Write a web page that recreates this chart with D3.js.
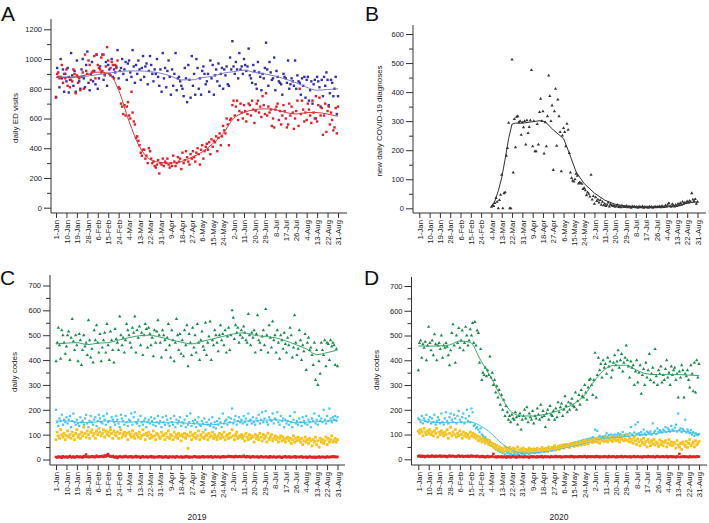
<!DOCTYPE html>
<html lang="en">
  <head>
    <meta charset="utf-8">
    <title>ED visits, COVID-19 diagnoses and daily codes</title>
    <style>
      body { margin: 0; background: #fff; }
      svg { display: block; font-family: "Liberation Sans", Arial, Helvetica, sans-serif; }
    </style>
  </head>
  <body>
    <div class="graph"></div>

    <script src="https://d3js.org/d3.v7.min.js"></script>
    <script>
      // x tick labels, one every 9 days from day 0 (1-Jan) to day 243 (31-Aug)
      var tickLabels = ['1-Jan', '10-Jan', '19-Jan', '28-Jan', '6-Feb', '15-Feb', '24-Feb', '4-Mar', '13-Mar',
        '22-Mar', '31-Mar', '9-Apr', '18-Apr', '27-Apr', '6-May', '15-May', '24-May', '2-Jun', '11-Jun',
        '20-Jun', '29-Jun', '8-Jul', '17-Jul', '26-Jul', '4-Aug', '13-Aug', '22-Aug', '31-Aug'];
      var tickDays = [0, 9, 18, 27, 36, 45, 54, 63, 72, 81, 90, 99, 108, 117, 126, 135, 144, 153, 162,
        171, 180, 189, 198, 207, 216, 225, 234, 243];

      // panel A: daily ED visits, 2019 (blue) and 2020 (red)
      var edVisits2019 = [
        745, 940, 880, 810, 1000, 870, 930, 780, 900, 850,
        940, 775, 860, 1040, 890, 820, 920, 780, 990, 880,
        850, 800, 930, 1000, 870, 810, 960, 1050, 840, 790,
        900, 980, 850, 920, 830, 1030, 800, 870, 950, 910,
        1030, 860, 900, 980, 820, 960, 930, 890, 1000, 880,
        930, 910, 950, 1060, 870, 920, 940, 1000, 900, 930,
        980, 860, 970, 990, 910, 880, 1060, 950, 840, 960,
        900, 990, 930, 860, 940, 1020, 880, 950, 970, 830,
        920, 1020, 960, 900, 850, 930, 900, 1000, 880, 820,
        930, 780, 1040, 870, 940, 810, 920, 990, 880, 760,
        930, 820, 900, 1040, 790, 870, 880, 850, 820, 800,
        750, 940, 870, 710, 960, 860, 740, 1020, 820, 900,
        760, 1000, 940, 800, 870, 760, 920, 950, 900, 830,
        850, 900, 780, 990, 870, 960, 760, 890, 930, 850,
        970, 820, 900, 940, 800, 930, 890, 950, 830, 820,
        1010, 930, 1120, 950, 900, 980, 930, 870, 1040, 930,
        950, 900, 1000, 960, 920, 950, 1070, 890, 870, 840,
        960, 920, 830, 800, 980, 910, 880, 790, 900, 870,
        940, 1110, 930, 820, 980, 910, 860, 870, 1010, 790,
        920, 880, 850, 840, 830, 760, 900, 880, 870, 840,
        990, 800, 830, 870, 850, 820, 990, 800, 890, 850,
        840, 760, 870, 820, 880, 740, 860, 880, 720, 790,
        850, 700, 830, 860, 600, 880, 850, 810, 680, 860,
        750, 880, 820, 910, 860, 690, 770, 860, 840, 750,
        800, 880, 630, 750];
      var edVisits2020 = [
        740, 900, 910, 870, 880, 960, 840, 900, 870, 930,
        820, 880, 810, 860, 850, 930, 900, 770, 890, 840,
        870, 790, 880, 910, 800, 1030, 920, 900, 990, 960,
        860, 910, 920, 1020, 870, 1030, 960, 940, 930, 1010,
        920, 1030, 890, 950, 1080, 990, 900, 940, 980, 960,
        870, 960, 940, 990, 810, 800, 700, 680, 630, 690,
        620, 680, 710, 620, 600, 780, 640, 580, 560, 470,
        480, 450, 420, 370, 350, 390, 390, 330, 350, 300,
        400, 380, 330, 300, 310, 280, 270, 290, 320, 230,
        300, 290, 330, 280, 310, 300, 330, 290, 270, 300,
        280, 350, 310, 280, 300, 340, 310, 330, 260, 370,
        300, 320, 380, 340, 310, 290, 360, 330, 380, 340,
        310, 370, 400, 360, 290, 390, 420, 330, 380, 410,
        430, 390, 440, 360, 460, 410, 450, 440, 480, 380,
        470, 500, 420, 480, 550, 520, 500, 600, 560, 420,
        590, 600, 690, 720, 620, 680, 720, 590, 650, 700,
        640, 600, 690, 650, 580, 630, 700, 690, 620, 720,
        660, 570, 650, 700, 720, 640, 680, 610, 750, 690,
        630, 770, 620, 680, 640, 660, 550, 600, 540, 660,
        680, 700, 590, 650, 560, 620, 690, 650, 600, 540,
        560, 700, 620, 680, 640, 530, 600, 650, 720, 550,
        800, 630, 720, 660, 580, 640, 590, 700, 660, 620,
        570, 720, 640, 600, 750, 580, 690, 740, 620, 670,
        490, 620, 700, 510, 650, 680, 560, 640, 590, 520,
        540, 670, 500, 680];
      // smoothed lines, read at the tick days
      var edTrend2019 = [875, 880, 880, 885, 895, 905, 915, 920, 920, 915, 905, 885, 860, 860, 875, 885,
        905, 915, 925, 910, 900, 885, 865, 840, 810, 790, 795, 800];
      var edTrend2020 = [880, 875, 880, 895, 912, 905, 790, 580, 410, 325, 305, 300, 310, 340, 375, 430,
        500, 600, 640, 660, 665, 660, 640, 630, 640, 640, 630, 615];

      // panel B: new daily COVID-19 diagnoses, from day 63 (4-Mar)
      var covidStartDay = 63;
      var covidCases = [
        5, 10, 8, 18, 35, 22, 0,
        28, 46, 115, 0, 52, 55, 181, 207, 294, 0,
        0, 512, 123, 307, 210, 315, 317, 296, 300, 253,
        296, 279, 300, 219, 303, 259, 280, 303, 476, 213,
        300, 196, 196, 290, 219, 331, 377, 300, 334, 188,
        296, 213, 317, 457, 386, 300, 354, 132, 334, 411,
        215, 374, 317, 262, 127, 250, 276, 262, 213, 291,
        270, 190, 123, 104, 95, 92, 100, 119, 112, 85,
        89, 87, 84, 66, 70, 62, 45, 55, 50, 40,
        115, 30, 42, 15, 38, 25, 30, 20, 28, 12,
        22, 10, 15, 8, 12, 20, 6, 14, 10, 8,
        10, 5, 8, 12, 4, 7, 3, 9, 5, 6,
        4, 8, 3, 6, 5, 2, 7, 4, 6, 3,
        5, 2, 6, 4, 3, 7, 2, 5, 3, 4,
        2, 6, 3, 5, 2, 4, 6, 3, 5, 4,
        7, 3, 8, 5, 4, 10, 6, 12, 18, 8,
        5, 14, 10, 6, 12, 8, 15, 10, 18, 12,
        22, 15, 20, 18, 24, 20, 26, 22, 52, 30,
        25, 32, 15, 22];
      var covidTrendDays = [63, 66, 69, 72, 75, 78, 81, 84, 90, 99, 106, 110, 117, 126, 131, 137, 144,
        153, 162, 171, 180, 189, 198, 207, 216, 225, 234, 243];
      var covidTrend = [5, 25, 60, 105, 170, 240, 290, 293, 293, 298, 302, 298, 270, 240, 190, 125, 85,
        52, 28, 14, 8, 5, 4, 4, 5, 8, 18, 22];

      // panel C: daily codes, 2019
      var green2019 = [
        395, 470, 530, 460, 405, 520, 500, 470, 425, 455,
        500, 515, 400, 490, 565, 475, 440, 500, 460, 395,
        505, 480, 380, 440, 500, 455, 470, 420, 560, 480,
        410, 445, 390, 520, 480, 540, 470, 430, 505, 395,
        450, 480, 510, 430, 545, 460, 400, 515, 480, 440,
        390, 525, 485, 470, 440, 575, 500, 460, 490, 430,
        480, 545, 520, 500, 470, 450, 530, 510, 575, 430,
        520, 490, 535, 460, 510, 420, 500, 545, 525, 450,
        530, 505, 460, 490, 415, 520, 470, 515, 560, 500,
        470, 410, 520, 500, 480, 440, 490, 545, 460, 410,
        520, 480, 395, 470, 565, 500, 440, 505, 425, 480,
        415, 520, 460, 540, 375, 505, 470, 420, 530, 450,
        500, 430, 545, 470, 400, 480, 515, 455, 440, 550,
        420, 470, 495, 555, 400, 480, 460, 520, 500, 470,
        435, 500, 540, 480, 505, 460, 520, 430, 495, 530,
        440, 500, 600, 570, 485, 540, 510, 530, 470, 500,
        520, 490, 535, 510, 480, 470, 585, 500, 460, 510,
        490, 520, 430, 505, 580, 480, 470, 440, 495, 520,
        460, 605, 500, 430, 540, 490, 450, 555, 480, 500,
        430, 520, 470, 405, 500, 480, 445, 510, 465, 430,
        490, 460, 530, 500, 410, 450, 580, 470, 420, 445,
        520, 480, 400, 460, 435, 505, 360, 470, 490, 440,
        450, 420, 380, 470, 320, 440, 300, 395, 345, 470,
        440, 420, 480, 375, 470, 465, 400, 480, 455, 470,
        460, 380, 445, 375];
      var cyan2019 = [
        200, 150, 135, 165, 155, 180, 140, 160, 150, 170,
        145, 160, 175, 130, 155, 185, 150, 140, 160, 145,
        135, 170, 150, 155, 140, 165, 180, 145, 130, 155,
        175, 150, 140, 160, 170, 135, 155, 180, 165, 150,
        145, 175, 160, 140, 185, 150, 155, 130, 170, 160,
        150, 140, 175, 160, 145, 130, 180, 165, 155, 140,
        175, 150, 135, 160, 155, 185, 140, 170, 190, 150,
        145, 160, 135, 175, 150, 140, 155, 165, 130, 150,
        160, 145, 170, 155, 140, 165, 135, 150, 175, 145,
        155, 130, 170, 150, 140, 175, 160, 145, 135, 165,
        150, 140, 175, 130, 160, 145, 155, 170, 135, 150,
        145, 160, 130, 175, 140, 150, 185, 135, 155, 145,
        160, 130, 150, 170, 140, 135, 155, 145, 165, 120,
        150, 140, 160, 135, 145, 170, 130, 150, 125, 155,
        140, 165, 150, 130, 185, 145, 155, 160, 140, 170,
        150, 165, 205, 145, 160, 175, 140, 155, 170, 150,
        160, 145, 175, 150, 165, 140, 185, 155, 160, 145,
        170, 150, 140, 165, 155, 180, 145, 160, 190, 150,
        165, 195, 150, 140, 170, 160, 155, 185, 145, 165,
        160, 190, 150, 140, 175, 155, 165, 130, 160, 145,
        155, 140, 175, 150, 130, 160, 190, 145, 155, 140,
        165, 150, 135, 170, 155, 145, 175, 140, 160, 150,
        130, 165, 155, 185, 145, 160, 140, 175, 155, 165,
        150, 200, 160, 145, 175, 155, 205, 165, 150, 170,
        160, 175, 155, 170];
      var yellow2019 = [
        80, 110, 95, 85, 120, 100, 90, 105, 80, 95,
        115, 90, 100, 85, 110, 95, 80, 105, 120, 90,
        100, 85, 110, 95, 130, 105, 90, 115, 100, 85,
        110, 120, 95, 105, 85, 115, 100, 125, 110, 95,
        105, 120, 90, 115, 100, 110, 95, 120, 105, 85,
        115, 100, 95, 110, 85, 105, 120, 90, 100, 110,
        95, 105, 80, 110, 100, 90, 115, 95, 85, 105,
        100, 90, 110, 85, 95, 120, 100, 80, 105, 95,
        110, 85, 100, 90, 115, 95, 80, 105, 100, 90,
        85, 110, 95, 100, 80, 105, 90, 115, 85, 100,
        95, 80, 110, 90, 100, 85, 105, 95, 75, 100,
        90, 105, 85, 100, 45, 95, 110, 80, 100, 90,
        105, 85, 95, 115, 80, 100, 90, 110, 85, 95,
        100, 80, 105, 90, 95, 110, 85, 100, 90, 80,
        95, 105, 85, 100, 90, 110, 80, 95, 100, 85,
        105, 90, 120, 95, 80, 100, 110, 85, 95, 90,
        100, 85, 95, 75, 105, 90, 80, 100, 85, 95,
        90, 70, 100, 85, 95, 80, 105, 90, 75, 100,
        85, 95, 70, 105, 80, 90, 100, 75, 85, 95,
        80, 90, 70, 85, 95, 75, 90, 80, 70, 85,
        90, 75, 85, 65, 80, 95, 70, 85, 75, 90,
        80, 70, 85, 60, 75, 90, 70, 80, 65, 85,
        75, 55, 80, 70, 90, 60, 75, 50, 85, 70,
        80, 65, 75, 90, 60, 85, 70, 80, 95, 70,
        75, 85, 70, 80];
      var red2019 = [
        10, 8, 12, 9, 11, 7, 13, 10, 9, 12,
        8, 11, 14, 10, 9, 12, 8, 10, 13, 11,
        9, 12, 10, 8, 14, 11, 20, 10, 12, 9,
        11, 13, 10, 12, 9, 15, 11, 10, 13, 12,
        14, 10, 16, 12, 18, 22, 15, 12, 11, 14,
        10, 8, 12, 6, 10, 13, 11, 9, 12, 10,
        14, 11, 9, 12, 10, 13, 8, 11, 10, 14,
        9, 12, 10, 7, 11, 13, 9, 10, 12, 8,
        11, 10, 13, 9, 12, 8, 10, 11, 9, 13,
        10, 12, 8, 11, 9, 13, 10, 7, 12, 11,
        9, 12, 10, 8, 13, 11, 9, 10, 12, 8,
        11, 9, 13, 10, 12, 8, 11, 9, 10, 12,
        13, 10, 9, 12, 8, 11, 10, 13, 9, 11,
        10, 12, 9, 11, 13, 8, 10, 12, 11, 9,
        12, 10, 8, 11, 13, 9, 12, 10, 11, 14,
        11, 13, 10, 12, 9, 14, 11, 10, 13, 12,
        10, 12, 15, 11, 9, 13, 10, 12, 8, 11,
        13, 9, 11, 10, 12, 8, 10, 13, 11, 9,
        10, 12, 9, 11, 8, 13, 10, 9, 12, 10,
        8, 11, 10, 12, 9, 7, 11, 10, 13, 9,
        10, 12, 8, 11, 9, 10, 13, 8, 11, 10,
        9, 11, 12, 8, 10, 9, 11, 7, 10, 12,
        9, 10, 8, 11, 7, 10, 9, 12, 8, 10,
        11, 9, 10, 8, 12, 10, 9, 11, 10, 13,
        10, 12, 9, 11];
      var greenTrend2019 = [465, 468, 470, 462, 468, 470, 480, 490, 498, 500, 492, 482, 472, 465, 475, 485,
        495, 505, 510, 500, 495, 490, 478, 462, 445, 422, 430, 440];
      var cyanTrend2019 = [155, 155, 150, 148, 152, 155, 152, 150, 152, 150, 148, 150, 148, 145, 142, 140,
        145, 150, 155, 155, 158, 160, 155, 148, 150, 152, 155, 160];
      var yellowTrend2019 = [95, 98, 100, 105, 108, 110, 108, 105, 100, 98, 95, 92, 92, 92, 93, 92, 90,
        92, 93, 90, 88, 85, 82, 80, 78, 75, 78, 80];
      var redTrend2019 = [10, 10, 10, 11, 12, 13, 12, 11, 11, 10, 10, 10, 10, 10, 10, 11, 11, 11, 11, 10,
        10, 10, 10, 10, 10, 9, 10, 10];

      // panel D: daily codes, 2020
      var green2020 = [
        360, 470, 480, 410, 465, 450, 475, 400, 460, 535,
        470, 440, 480, 420, 505, 465, 400, 460, 470, 445,
        500, 410, 460, 450, 470, 455, 420, 380, 440, 510,
        545, 460, 390, 500, 470, 530, 450, 480, 520, 440,
        470, 535, 500, 460, 480, 525, 500, 550, 470, 555,
        460, 520, 510, 390, 445, 320, 350, 340, 370, 335,
        360, 340, 415, 330, 350, 300, 320, 270, 295, 250,
        280, 220, 260, 200, 240, 175, 215, 190, 160, 175,
        150, 180, 165, 160, 190, 170, 140, 175, 185, 120,
        160, 175, 200, 165, 210, 150, 185, 170, 160, 195,
        145, 175, 165, 205, 180, 160, 220, 170, 195, 175,
        130, 185, 200, 160, 215, 180, 175, 195, 160, 205,
        170, 230, 190, 210, 225, 175, 200, 255, 215, 190,
        230, 200, 225, 245, 215, 210, 270, 200, 235, 260,
        220, 280, 255, 250, 300, 270, 240, 290, 320, 325,
        300, 260, 320, 430, 250, 340, 410, 360, 385, 330,
        400, 370, 385, 345, 410, 375, 395, 330, 360, 390,
        420, 380, 395, 440, 370, 400, 425, 355, 390, 410,
        460, 400, 375, 330, 395, 370, 380, 300, 355, 400,
        310, 350, 380, 265, 340, 365, 300, 390, 330, 360,
        425, 320, 345, 370, 310, 445, 335, 300, 360, 345,
        375, 310, 340, 320, 365, 400, 330, 350, 300, 375,
        340, 360, 370, 320, 345, 250, 355, 330, 380, 360,
        250, 345, 335, 360, 320, 290, 380, 345, 275, 390,
        270, 400, 330, 385];
      var cyan2020 = [
        165, 160, 150, 175, 145, 165, 155, 180, 150, 160,
        170, 145, 165, 150, 180, 140, 155, 170, 160, 145,
        185, 150, 140, 165, 190, 155, 145, 170, 185, 160,
        150, 180, 165, 145, 175, 195, 160, 150, 170, 185,
        145, 165, 200, 155, 175, 150, 205, 190, 135, 140,
        125, 130, 120, 110, 125, 100, 95, 85, 90, 75,
        80, 65, 70, 55, 60, 50, 45, 40, 55, 35,
        40, 30, 35, 25, 30, 20, 35, 25, 30, 20,
        25, 18, 30, 22, 28, 20, 25, 18, 30, 25,
        22, 28, 20, 30, 25, 35, 22, 30, 28, 35,
        30, 25, 35, 28, 32, 40, 30, 35, 38, 30,
        40, 35, 32, 45, 38, 42, 35, 48, 40, 45,
        42, 50, 45, 55, 48, 52, 58, 50, 55, 60,
        55, 62, 58, 65, 60, 68, 62, 70, 65, 72,
        68, 75, 70, 78, 72, 80, 75, 82, 78, 85,
        80, 90, 85, 120, 82, 115, 88, 95, 85, 90,
        92, 88, 95, 105, 90, 98, 85, 100, 92, 96,
        100, 90, 98, 105, 95, 102, 92, 110, 98, 95,
        102, 98, 95, 105, 130, 100, 96, 108, 140, 102,
        150, 105, 98, 110, 100, 120, 104, 98, 112, 108,
        105, 112, 100, 145, 108, 115, 102, 125, 110, 118,
        112, 108, 120, 115, 130, 110, 125, 118, 112, 135,
        120, 115, 128, 140, 112, 185, 118, 125, 110, 122,
        115, 160, 108, 120, 112, 105, 118, 100, 110, 95,
        105, 100, 98, 102];
      var yellow2020 = [
        115, 105, 120, 110, 95, 125, 110, 100, 115, 105,
        120, 100, 110, 95, 115, 105, 125, 90, 110, 100,
        115, 105, 95, 110, 100, 120, 85, 105, 130, 95,
        110, 100, 120, 90, 105, 95, 115, 100, 85, 110,
        95, 105, 90, 100, 85, 110, 95, 105, 90, 100,
        85, 95, 75, 90, 80, 70, 85, 75, 65, 80,
        70, 60, 75, 55, 65, 50, 60, 45, 55, 40,
        50, 35, 45, 40, 30, 50, 38, 45, 35, 48,
        40, 30, 45, 35, 42, 28, 50, 38, 30, 42,
        35, 45, 30, 40, 28, 38, 45, 32, 40, 35,
        42, 30, 38, 45, 35, 28, 40, 48, 35, 42,
        38, 45, 32, 50, 40, 35, 48, 42, 55, 38,
        45, 52, 40, 55, 48, 58, 45, 50, 60, 52,
        55, 48, 62, 58, 65, 52, 60, 68, 55, 62,
        70, 58, 65, 72, 60, 75, 68, 62, 78, 70,
        75, 68, 80, 72, 85, 70, 78, 65, 82, 75,
        80, 72, 88, 75, 70, 85, 78, 90, 72, 80,
        85, 75, 92, 78, 70, 88, 80, 95, 75, 82,
        78, 100, 72, 85, 70, 80, 65, 88, 75, 60,
        82, 70, 55, 78, 65, 85, 60, 72, 50, 80,
        68, 55, 75, 62, 80, 58, 70, 65, 52, 78,
        60, 72, 55, 68, 75, 50, 65, 80, 58, 70,
        55, 68, 62, 45, 75, 58, 50, 65, 40, 70,
        60, 52, 72, 48, 65, 80, 55, 62, 70, 50,
        75, 58, 65, 72];
      var red2020 = [
        12, 15, 10, 14, 11, 13, 9, 12, 14, 10,
        13, 11, 15, 12, 10, 14, 11, 13, 12, 15,
        10, 12, 14, 11, 13, 9, 12, 15, 11, 13,
        14, 11, 12, 10, 13, 15, 11, 12, 14, 10,
        12, 13, 11, 14, 10, 12, 15, 11, 13, 12,
        10, 14, 12, 9, 11, 13, 10, 12, 8, 11,
        13, 9, 11, 10, 12, 22, 9, 11, 8, 12,
        10, 9, 12, 8, 11, 10, 7, 12, 9, 11,
        8, 10, 12, 9, 11, 7, 10, 13, 9, 11,
        10, 8, 12, 10, 9, 11, 7, 10, 12, 9,
        11, 10, 8, 12, 9, 11, 10, 13, 8, 10,
        12, 9, 11, 10, 8, 12, 10, 9, 11, 13,
        9, 11, 10, 12, 8, 10, 11, 9, 12, 10,
        11, 9, 13, 10, 12, 8, 11, 10, 9, 12,
        10, 12, 9, 11, 13, 10, 8, 12, 11, 9,
        12, 10, 11, 9, 13, 10, 12, 8, 11, 10,
        9, 12, 10, 11, 8, 13, 10, 9, 12, 11,
        10, 8, 12, 9, 11, 10, 13, 9, 10, 12,
        11, 9, 10, 12, 8, 11, 10, 13, 9, 10,
        12, 10, 9, 11, 8, 12, 10, 11, 9, 13,
        10, 11, 9, 12, 10, 8, 11, 13, 10, 9,
        11, 10, 12, 9, 10, 13, 8, 11, 10, 12,
        9, 11, 10, 8, 12, 10, 22, 9, 11, 10,
        12, 9, 11, 10, 8, 12, 10, 9, 11, 10,
        9, 12, 10, 11];
      var greenTrend2020 = [458, 457, 458, 462, 478, 472, 400, 330, 250, 190, 175, 175, 180, 190, 205, 225,
        260, 320, 365, 380, 380, 360, 345, 342, 342, 342, 340, 338];
      var cyanTrend2020 = [162, 152, 148, 148, 150, 150, 135, 105, 65, 38, 25, 25, 30, 36, 45, 55, 65, 75,
        85, 88, 92, 98, 100, 105, 112, 115, 110, 100];
      var yellowTrend2020 = [115, 112, 108, 102, 98, 92, 78, 60, 45, 40, 35, 33, 35, 40, 48, 58, 68, 75,
        80, 82, 80, 75, 70, 66, 64, 60, 60, 62];
      var redTrend2020 = [12, 12, 12, 12, 12, 12, 11, 11, 10, 10, 10, 10, 10, 10, 10, 10, 10, 10, 10, 10,
        10, 10, 10, 10, 10, 10, 10, 10];

      var svg = d3.select('.graph')
                  .append('svg')
                  .attr('width', 709)
                  .attr('height', 523);

      function drawPanel(p) {
        var g = svg.append('g');
        var x = d3.scaleLinear().domain([0, 243]).range([p.x0, p.x1]);
        var y = d3.scaleLinear().domain([0, p.yMax]).range([p.y0, p.yTop]);

        // y axis: major + minor ticks
        var yAxis = g.append('g')
          .attr('transform', 'translate(' + p.axisX + ',0)')
          .call(d3.axisLeft(y).tickValues(d3.range(0, p.yMax + 1, p.yStep)).tickSize(7).tickPadding(2)
            .tickFormat(d3.format('d')));
        yAxis.select('.domain').remove();
        yAxis.selectAll('text').style('font-size', '7.5px');
        var yMinor = g.append('g')
          .attr('transform', 'translate(' + p.axisX + ',0)')
          .call(d3.axisLeft(y).tickValues(d3.range(p.yStep / 2, p.yMax, p.yStep)).tickSize(4).tickFormat(''));
        yMinor.select('.domain').remove();

        // x axis with rotated date labels
        var xAxis = g.append('g')
          .attr('transform', 'translate(0,' + p.axisY + ')')
          .call(d3.axisBottom(x).tickValues(tickDays).tickSize(5)
            .tickFormat(function(d, i) { return tickLabels[i]; }));
        xAxis.select('.domain').remove();
        xAxis.selectAll('text')
          .attr('transform', 'rotate(-90)')
          .attr('text-anchor', 'end')
          .attr('x', -7)
          .attr('y', 0)
          .attr('dy', '0.35em')
          .style('font-size', '7.8px');

        g.selectAll('.tick line').attr('stroke', '#333');
        g.selectAll('.tick text').attr('fill', '#222');

        g.append('line')
          .attr('x1', p.axisX).attr('x2', p.axisX)
          .attr('y1', p.axisTop).attr('y2', p.axisY)
          .attr('stroke', '#333');
        g.append('line')
          .attr('x1', p.axisX).attr('x2', p.axisRight)
          .attr('y1', p.axisY).attr('y2', p.axisY)
          .attr('stroke', '#333');

        // axis title
        g.append('text')
          .attr('transform', 'translate(' + p.titleX + ',' + p.titleY + ') rotate(-90)')
          .attr('text-anchor', 'middle')
          .attr('dy', '0.35em')
          .style('font-size', '8px')
          .attr('fill', '#222')
          .text(p.title);

        // panel letter
        g.append('text')
          .attr('x', p.letterX).attr('y', p.letterY)
          .style('font-size', '21px')
          .attr('fill', '#111')
          .text(p.letter);

        if (p.year) {
          g.append('text')
            .attr('x', p.yearX).attr('y', p.yearY)
            .attr('text-anchor', 'middle')
            .style('font-size', '8.5px')
            .attr('fill', '#222')
            .text(p.year);
        }

        var line = d3.line()
          .x(function(d) { return x(d[0]); })
          .y(function(d) { return y(d[1]); });

        p.series.forEach(function(s) {
          var start = s.start || 0;
          var pts = s.values.map(function(v, i) { return [start + i, v]; });
          var marks = g.append('g').attr('fill', s.color);
          if (s.shape === 'triangle') {
            marks.selectAll('path')
              .data(pts)
              .enter()
              .append('path')
              .attr('d', d3.symbol().type(d3.symbolTriangle).size(s.size))
              .attr('transform', function(d) { return 'translate(' + x(d[0]) + ',' + y(d[1]) + ')'; });
          } else {
            marks.selectAll('rect')
              .data(pts)
              .enter()
              .append('rect')
              .attr('x', function(d) { return x(d[0]) - s.size / 2; })
              .attr('y', function(d) { return y(d[1]) - s.size / 2; })
              .attr('width', s.size)
              .attr('height', s.size);
          }
        });

        p.series.forEach(function(s) {
          var days = s.trendDays || tickDays;
          var tpts = s.trend.map(function(v, i) { return [days[i], v]; });
          line.curve(s.linear ? d3.curveLinear : d3.curveMonotoneX);
          g.append('path')
            .attr('d', line(tpts))
            .attr('fill', 'none')
            .attr('stroke', s.lineColor)
            .attr('stroke-width', 1);
        });
      }

      drawPanel({
        letter: 'A', letterX: 1, letterY: 21,
        title: 'daily ED visits', titleX: 15, titleY: 118,
        x0: 56, x1: 338, axisX: 51, axisY: 213, axisTop: 19, axisRight: 347,
        yMax: 1200, yStep: 200, y0: 207.7, yTop: 29.3,
        series: [
          { values: edVisits2019, trend: edTrend2019, color: '#3232a6', lineColor: '#7b7bcc', size: 2.4 },
          { values: edVisits2020, trend: edTrend2020, color: '#e21f27', lineColor: '#e2343b', size: 2.4 }
        ]
      });

      drawPanel({
        letter: 'B', letterX: 365, letterY: 21,
        title: 'new daily COVID-19 diagnoses', titleX: 379, titleY: 121,
        x0: 419.3, x1: 697.5, axisX: 413, axisY: 213, axisTop: 25, axisRight: 706,
        yMax: 600, yStep: 100, y0: 208.3, yTop: 34,
        series: [
          { values: covidCases, start: covidStartDay, trend: covidTrend, trendDays: covidTrendDays,
            linear: true, color: '#333', lineColor: '#333', shape: 'triangle', size: 4.5 }
        ]
      });

      drawPanel({
        letter: 'C', letterX: 0, letterY: 285,
        title: 'daily codes', titleX: 14, titleY: 372,
        year: '2019', yearX: 197, yearY: 520,
        x0: 56, x1: 337.5, axisX: 50, axisY: 465, axisTop: 275, axisRight: 345,
        yMax: 700, yStep: 100, y0: 459.5, yTop: 285.5,
        series: [
          { values: green2019, trend: greenTrend2019, color: '#1b8a4c', lineColor: '#3aa66a', shape: 'triangle', size: 5 },
          { values: cyan2019, trend: cyanTrend2019, color: '#46c6f0', lineColor: '#42c0ee', size: 2.2 },
          { values: yellow2019, trend: yellowTrend2019, color: '#f6c316', lineColor: '#f2c84a', size: 2.8 },
          { values: red2019, trend: redTrend2019, color: '#e4202a', lineColor: '#e4202a', size: 2.5 }
        ]
      });

      drawPanel({
        letter: 'D', letterX: 364, letterY: 285,
        title: 'daily codes', titleX: 376, titleY: 370,
        year: '2020', yearX: 559, yearY: 520,
        x0: 418.3, x1: 699, axisX: 411.5, axisY: 465, axisTop: 277, axisRight: 707,
        yMax: 700, yStep: 100, y0: 459.3, yTop: 286,
        series: [
          { values: green2020, trend: greenTrend2020, color: '#1b8a4c', lineColor: '#3aa66a', shape: 'triangle', size: 5 },
          { values: cyan2020, trend: cyanTrend2020, color: '#46c6f0', lineColor: '#42c0ee', size: 2.2 },
          { values: yellow2020, trend: yellowTrend2020, color: '#f6c316', lineColor: '#f2c84a', size: 2.8 },
          { values: red2020, trend: redTrend2020, color: '#e4202a', lineColor: '#e4202a', size: 2.5 }
        ]
      });
    </script>
  </body>
</html>
